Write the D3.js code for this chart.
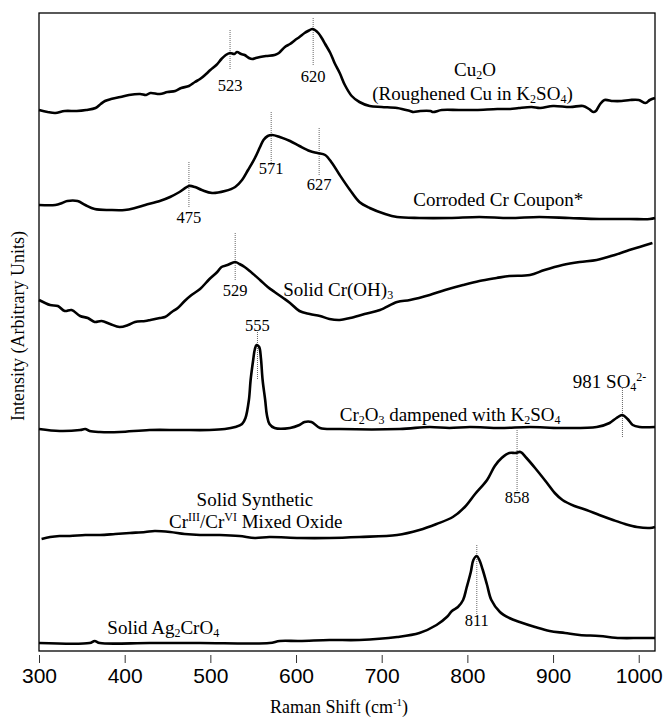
<!DOCTYPE html>
<html lang="en">
<head>
<meta charset="UTF-8">
<title>Raman spectra</title>
<script src="https://d3js.org/d3.v7.min.js"></script>
<style>
  body { margin: 0; background: #fff; }
  .serif { font-family: "Liberation Serif", "DejaVu Serif", serif; }
  .sans { font-family: "Liberation Sans", Arial, sans-serif; }
</style>
</head>
<body>
<svg width="667" height="719"></svg>
<script>
// Raman shift (cm-1) vs. stacked intensity (arbitrary units)
const cu2o = [[300,541],[310,539],[319,538],[330,540],[344,540],[355,541],[366,543],[372,547],[377,550],[384,552],[395,554],[405,556],[418,557],[425,556],[430,558],[441,557],[450,559],[459,560],[466,563],[475,565],[482,569],[488,572],[495,577],[500,581],[507,586],[513,592],[518,596],[523,598],[528,597],[531,599],[536,597],[540,596],[545,593],[549,592],[553,593],[558,594],[565,595],[575,596],[580,598],[587,604],[593,607],[599,611],[604,614],[610,618],[614,620],[619,622],[622,621],[626,618],[630,613],[634,607],[640,598],[645,588],[651,578],[657,566],[665,555],[674,549],[686,545],[700,544],[718,543],[733,540],[737,539],[745,540],[757,540],[760,539],[770,541],[790,541],[810,541],[835,542],[850,542],[860,543],[875,544],[885,543],[900,545],[920,544],[935,545],[942,542],[947,539],[950,540],[955,547],[960,551],[970,550],[980,550],[990,551],[1000,551],[1008,548],[1013,551],[1019,553]];

const crCoupon = [[300,446],[319,446],[327,448],[333,450],[345,450],[354,446],[365,442],[383,441],[400,441],[412,443],[424,446],[441,450],[453,454],[464,459],[475,465],[482,464],[490,461],[502,458],[517,460],[529,464],[537,471],[544,481],[552,493],[558,504],[562,511],[567,515],[572,516],[581,514],[593,510],[604,505],[616,500],[625,498],[634,496],[642,488],[651,476],[663,461],[674,449],[686,443],[704,437],[718,434],[744,433],[779,433],[814,434],[849,433],[884,434],[919,433],[954,432],[989,432],[1013,432],[1019,433]];

const crOH3 = [[300,351],[313,346],[322,345],[330,340],[338,341],[348,335],[357,333],[365,329],[373,330],[383,327],[394,324],[404,326],[412,329],[424,330],[430,331],[441,333],[447,334],[455,339],[462,343],[470,350],[478,356],[488,362],[499,372],[508,379],[513,384],[520,386],[529,389],[534,387],[540,384],[546,380],[558,371],[567,364],[575,359],[585,353],[593,348],[604,340],[616,337],[628,335],[639,332],[651,331],[663,333],[680,337],[698,341],[718,349],[733,351],[756,356],[774,361],[795,366],[814,370],[834,373],[849,375],[873,376],[890,381],[911,386],[931,389],[951,391],[972,396],[989,401],[1001,404],[1016,408]];

const cr2o3 = [[300,222],[324,220],[348,221],[354,222],[359,220],[371,219],[394,219],[429,221],[464,221],[499,221],[517,222],[529,224],[537,227],[541,233],[545,251],[547,271],[550,291],[552,302],[554,306],[557,304],[559,293],[561,271],[564,251],[566,236],[569,227],[575,223],[593,223],[604,226],[610,229],[618,229],[628,223],[651,222],[721,222],[756,224],[779,223],[803,224],[838,223],[873,224],[908,223],[951,224],[966,228],[974,233],[981,236],[987,232],[993,226],[1001,224],[1019,224]];

const mixedOxide = [[303,112],[313,114],[324,115],[336,115],[354,116],[371,116],[389,117],[406,118],[424,119],[435,120],[453,119],[470,117],[488,116],[511,116],[534,115],[552,113],[569,114],[604,113],[639,113],[674,114],[718,116],[744,121],[764,127],[783,134],[797,144],[809,157],[823,171],[832,185],[840,193],[849,198],[856,198],[862,199],[869,193],[879,183],[893,168],[902,158],[911,151],[925,145],[939,141],[954,136],[970,131],[984,127],[998,124],[1013,123],[1019,124]];

const ag2cro4 = [[300,8],[359,8],[365,10],[371,8],[429,8],[488,8],[569,8],[581,10],[604,10],[639,11],[674,11],[718,14],[744,18],[764,26],[776,34],[782,40],[789,44],[795,51],[799,63],[804,79],[807,91],[811,95],[814,91],[818,81],[823,66],[828,51],[838,39],[849,33],[861,29],[879,24],[896,20],[914,18],[931,16],[954,15],[978,13],[1001,13],[1019,13]];

const spectra = [cu2o, crCoupon, crOH3, cr2o3, mixedOxide, ag2cro4];
const xTicks = [300, 400, 500, 600, 700, 800, 900, 1000];

// peak markers: shift, dotted line from y1 to y2, label y
const peaks = [
  {shift: 523, y1: 621, y2: 581, ly: 566, label: "523"},
  {shift: 620, y1: 633, y2: 586, ly: 575, label: "620"},
  {shift: 475, y1: 489, y2: 444, ly: 434, label: "475"},
  {shift: 571, y1: 539, y2: 486, ly: 483, label: "571"},
  {shift: 627, y1: 523, y2: 476, ly: 467, label: "627"},
  {shift: 529, y1: 418, y2: 370, ly: 361, label: "529"},
  {shift: 555, y1: 319, y2: 271, ly: 326, label: "555"},
  {shift: 981, y1: 263, y2: 214, ly: null, label: null},
  {shift: 858, y1: 221, y2: 159, ly: 154, label: "858"},
  {shift: 811, y1: 106, y2: 36, ly: 31, label: "811"}
];

// sample names; segments: [text, "sub"|"sup"|null]
const names = [
  {x: 809, y: 581, anchor: "middle", parts: [["Cu"],["2","sub"],["O"]]},
  {x: 806, y: 557, anchor: "middle", parts: [["(Roughened Cu in K"],["2","sub"],["SO"],["4","sub"],[")"]]},
  {x: 836, y: 451, anchor: "middle", parts: [["Corroded Cr Coupon*"]]},
  {x: 585, y: 361, anchor: "start", parts: [["Solid Cr(OH)"],["3","sub"]]},
  {x: 651, y: 236, anchor: "start", parts: [["Cr"],["2","sub"],["O"],["3","sub"],[" dampened with K"],["2","sub"],["SO"],["4","sub"]]},
  {x: 966, y: 269, anchor: "middle", parts: [["981 SO"],["4","sub"],["2-","sup"]]},
  {x: 552, y: 151, anchor: "middle", parts: [["Solid Synthetic"]]},
  {x: 553, y: 129, anchor: "middle", parts: [["Cr"],["III","sup"],["/Cr"],["VI","sup"],[" Mixed Oxide"]]},
  {x: 445, y: 23, anchor: "middle", parts: [["Solid Ag"],["2","sub"],["CrO"],["4","sub"]]}
];

const svg = d3.select("svg");
const margin = {left: 39, right: 655, top: 13, bottom: 651};

const x = d3.scaleLinear().domain([300, 1019]).range([margin.left, margin.right]);
const y = d3.scaleLinear().domain([0, 638]).range([margin.bottom, margin.top]);

// frame
svg.append("rect")
    .attr("x", margin.left).attr("y", margin.top)
    .attr("width", margin.right - margin.left).attr("height", margin.bottom - margin.top)
    .attr("fill", "none").attr("stroke", "#000").attr("stroke-width", 1.3);

// x axis (ticks sit just below the frame)
const ax = svg.append("g")
    .attr("transform", `translate(0,${margin.bottom + 4})`)
    .call(d3.axisBottom(x).tickValues(xTicks).tickSize(8).tickPadding(5).tickFormat(d3.format("d")));
ax.select(".domain").remove();
ax.selectAll("line").attr("stroke", "#333").attr("stroke-width", 1);
ax.selectAll("text")
    .attr("class", "sans")
    .attr("font-family", null)
    .attr("font-size", 21).attr("fill", "#000");

const xTitle = svg.append("text")
    .attr("class", "serif")
    .attr("x", 339).attr("y", 713)
    .attr("text-anchor", "middle")
    .attr("font-size", 18);
xTitle.append("tspan").text("Raman Shift (cm");
xTitle.append("tspan").attr("dy", -7).attr("font-size", 11).text("-1");
xTitle.append("tspan").attr("dy", 7).text(")");

svg.append("text")
    .attr("class", "serif")
    .attr("transform", `translate(24,${(margin.top + margin.bottom) / 2 - 6}) rotate(-90)`)
    .attr("text-anchor", "middle")
    .attr("font-size", 18)
    .text("Intensity (Arbitrary Units)");

// dotted peak markers
svg.selectAll(".peakline")
  .data(peaks)
  .enter().append("line")
    .attr("class", "peakline")
    .attr("x1", d => x(d.shift)).attr("x2", d => x(d.shift))
    .attr("y1", d => y(d.y1)).attr("y2", d => y(d.y2))
    .attr("stroke", "#666").attr("stroke-width", 1)
    .attr("stroke-dasharray", "1,1");

// spectra
const line = d3.line()
    .x(d => x(d[0]))
    .y(d => y(d[1]))
    .curve(d3.curveCatmullRom.alpha(0.5));

svg.selectAll(".spectrum")
  .data(spectra)
  .enter().append("path")
    .attr("class", "spectrum")
    .attr("d", line)
    .attr("fill", "none")
    .attr("stroke", "#000")
    .attr("stroke-width", 2.6)
    .attr("stroke-linejoin", "round");

// peak labels
svg.selectAll(".peaklabel")
  .data(peaks.filter(d => d.label))
  .enter().append("text")
    .attr("class", "peaklabel serif")
    .attr("x", d => x(d.shift))
    .attr("y", d => y(d.ly) + 5.5)
    .attr("text-anchor", "middle")
    .attr("font-size", 16.5)
    .text(d => d.label);

// sample names with sub/superscripts
names.forEach(n => {
  const t = svg.append("text")
      .attr("class", "serif")
      .attr("x", x(n.x)).attr("y", y(n.y) + 6)
      .attr("text-anchor", n.anchor)
      .attr("font-size", 19);
  let shift = 0;
  n.parts.forEach(([s, kind]) => {
    let target = 0;
    if (kind === "sub") target = 3;
    else if (kind === "sup") target = -7;
    const ts = t.append("tspan").attr("dy", target - shift).text(s);
    if (kind) ts.attr("font-size", 12);
    shift = target;
  });
});
</script>
</body>
</html>
